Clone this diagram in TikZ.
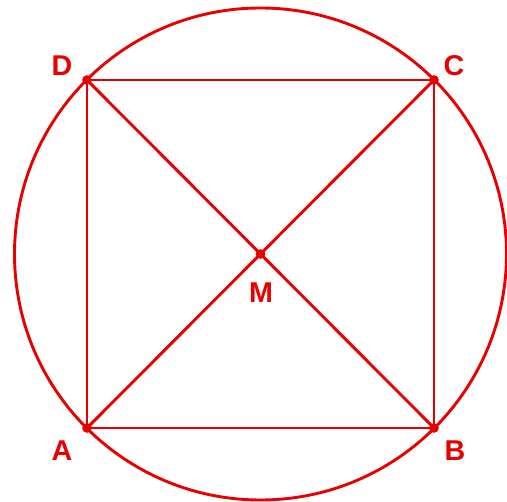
\documentclass[tikz,border=0pt]{standalone}
\usepackage{fontspec}
\setmainfont{Liberation Sans}
\usetikzlibrary{positioning,calc}

\definecolor{geored}{RGB}{232,0,0}

\begin{document}
\begin{tikzpicture}[
        x=0.02cm, y=-0.02cm,
        edge/.style={draw=geored, line width=1.65pt, line cap=round},
        vertex/.style={circle, fill=geored, inner sep=0pt, minimum size=5.5pt},
        label/.style={text=geored, font=\fontsize{16.3}{19}\selectfont\bfseries, inner sep=0pt}
    ]
        \useasboundingbox (0,0) rectangle (507,502);

        \node[vertex] (A) at (87,428) {};
        \node[vertex] (B) at (434,428) {};
        \node[vertex] (C) at (434,80) {};
        \node[vertex] (D) at (87,80) {};
        \node[vertex] (M) at (260.5,254) {};

        \node[label] (la) at (62,451) {A};
        \node[label] (lb) at (455,451) {B};
        \node[label] (lc) at (454,66) {C};
        \node[label] (ld) at (62,66) {D};
        \node[label] (lm) at (261,293) {M};

        \draw[edge] (M.center) circle[radius=246];
        \draw[edge] (A.center) -- (B.center) -- (C.center) -- (D.center) -- cycle;
        \draw[edge] (A.center) -- (C.center);
        \draw[edge] (B.center) -- (D.center);
    \end{tikzpicture}
\end{document}
